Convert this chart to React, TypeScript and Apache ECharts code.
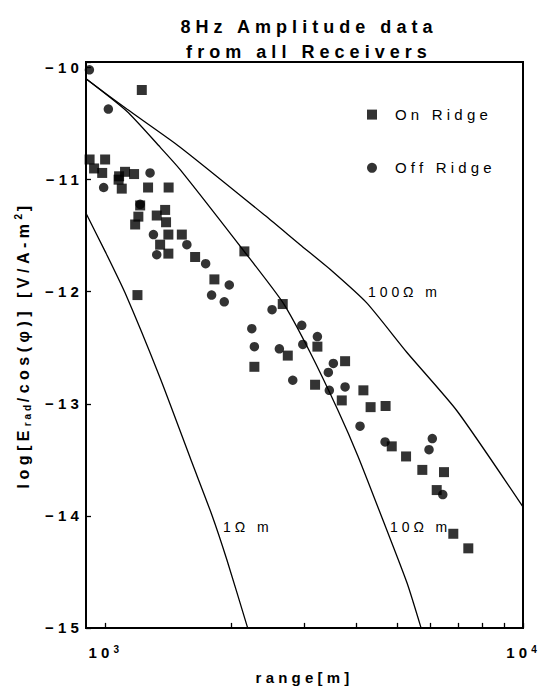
import React, { useEffect, useRef } from 'react';
import * as echarts from 'echarts';

const LS = 0.28; // letter spacing in em, matches the widely spaced lettering
const FONT = 'Liberation Sans';

// ---- data ----
const onRidgeRange = [1224, 918, 1000, 941, 984, 1080, 1116, 1173, 1077, 1096, 1267, 1419, 1213, 1329, 1392, 1399, 1201, 1180, 1417, 1526, 1354, 1417, 1642, 1826, 2154, 1195, 2661, 2276, 2736, 3221, 3752, 3180, 4150, 3684, 4318, 4690, 4852, 5250, 5742, 6471, 6216, 6811, 7398];
const onRidgeLogE = [-10.2, -10.82, -10.82, -10.9, -10.94, -10.97, -10.93, -10.95, -11.0, -11.08, -11.07, -11.07, -11.23, -11.32, -11.27, -11.38, -11.33, -11.4, -11.49, -11.49, -11.58, -11.66, -11.69, -11.89, -11.64, -12.03, -12.11, -12.67, -12.57, -12.49, -12.62, -12.83, -12.88, -12.97, -13.03, -13.02, -13.38, -13.47, -13.59, -13.61, -13.77, -14.16, -14.29];

const offRidgeRange = [917, 1018, 1281, 992, 1213, 1305, 1329, 1569, 1740, 1982, 1798, 1928, 2509, 2244, 2955, 3221, 2972, 2276, 2612, 3517, 3421, 2812, 3752, 3440, 4074, 4677, 6067, 5958, 6427];
const offRidgeLogE = [-10.02, -10.37, -10.94, -11.07, -11.22, -11.49, -11.67, -11.58, -11.75, -11.94, -12.03, -12.09, -12.16, -12.33, -12.3, -12.4, -12.47, -12.49, -12.51, -12.64, -12.72, -12.79, -12.85, -12.88, -13.2, -13.34, -13.31, -13.41, -13.81];

const curve100Range = [900, 1127, 1512, 2415, 2928, 3453, 4227, 5270, 6940, 10000];
const curve100LogE = [-10.1, -10.37, -10.71, -11.32, -11.58, -11.8, -12.1, -12.54, -13.06, -13.92];

const curve10Range = [900, 1127, 1354, 1512, 2162, 2666, 3093, 3609, 4030, 4624, 5279, 5702];
const curve10LogE = [-10.1, -10.39, -10.71, -10.91, -11.65, -12.1, -12.54, -13.06, -13.47, -14.04, -14.6, -15.0];

const curve1Range = [900, 1000, 1116, 1354, 1612, 1800, 1955, 2193];
const curve1LogE = [-11.3, -11.64, -12.01, -12.77, -13.52, -13.99, -14.39, -15.0];

const xTickValues = [1000, 2000, 3000, 4000, 5000, 6000, 7000, 8000, 9000, 10000];
const xLabelValues = [1000, 10000];
const yTicks = [-15, -14, -13, -12, -11, -10];

const titleLines = ['8Hz Amplitude data', 'from all Receivers'];
const curveLabels = ['100Ω m', '10Ω m', '1Ω m'];

// text measurement that accounts for the CSS letter spacing
const measureCtx = document.createElement('canvas').getContext('2d') as CanvasRenderingContext2D;
(echarts as any).setPlatformAPI({
  measureText(text: string, font?: string) {
    measureCtx.font = font || '12px sans-serif';
    const w = measureCtx.measureText(text).width;
    const m = /(\d+(?:\.\d+)?)px/.exec(font || '');
    const size = m ? parseFloat(m[1]) : 12;
    return { width: w + text.length * size * LS };
  },
});

const pairs = (xs: number[], ys: number[]) => xs.map((x, i) => [x, ys[i]]);

const curveSeries = (name: string, xs: number[], ys: number[]) => ({
  name,
  type: 'line',
  data: pairs(xs, ys),
  smooth: 0.2,
  symbol: 'none',
  lineStyle: { color: '#000', width: 1.3 },
  z: 1,
  silent: true,
});

const labelStyle = (text: string) => ({
  text,
  fontFamily: FONT,
  fontSize: 14,
  fill: '#000',
  align: 'left',
  verticalAlign: 'middle',
  textAlign: 'left',
  textVerticalAlign: 'middle',
});

export default function App() {
  const ref = useRef<HTMLDivElement>(null);
  useEffect(() => {
    const chart = echarts.init(ref.current as HTMLDivElement, null, { renderer: 'svg', width: 544, height: 692 });
    const option: any = {
      animation: false,
      backgroundColor: '#fff',
      title: {
        text: titleLines.join('\n'),
        left: 304,
        top: 9,
        textAlign: 'center',
        textStyle: { fontFamily: FONT, fontSize: 18, fontWeight: 'bold', color: '#000', lineHeight: 25 },
      },
      legend: {
        orient: 'vertical',
        left: 362,
        top: 100,
        itemWidth: 10,
        itemHeight: 10,
        itemGap: 34,
        selectedMode: false,
        data: [
          { name: 'On Ridge', icon: 'rect' },
          { name: 'Off Ridge', icon: 'circle' },
        ],
        textStyle: { fontFamily: FONT, fontSize: 15, color: '#000', padding: [0, 0, 0, 13], lineHeight: 16 },
      },
      grid: { left: 86, top: 62, right: 21, bottom: 49, show: true, borderColor: '#000', borderWidth: 2, backgroundColor: 'transparent' },
      xAxis: {
        type: 'log',
        logBase: 10,
        min: 900,
        max: 10000,
        name: 'range[m]',
        nameLocation: 'middle',
        nameGap: 31,
        nameTextStyle: { fontFamily: FONT, fontSize: 15, fontWeight: 'bold', color: '#000' },
        axisLine: { lineStyle: { color: '#000', width: 2 } },
        axisTick: { inside: true, length: 5, lineStyle: { color: '#000', width: 1.3 }, customValues: xTickValues },
        minorTick: { show: false },
        splitLine: { show: false },
        axisLabel: {
          customValues: xLabelValues,
          margin: 15,
          color: '#000',
          fontFamily: FONT,
          fontSize: 15,
          fontWeight: 'bold',
          lineHeight: 20,
          formatter: (v: number) => '10{sup|' + Math.round(Math.log10(v)) + '}',
          rich: {
            sup: { fontFamily: FONT, fontSize: 10, fontWeight: 'bold', color: '#000', verticalAlign: 'top', lineHeight: 10 },
          },
        },
      },
      yAxis: {
        type: 'value',
        min: -15,
        max: -9.95,
        interval: 1,
        name: 'log[E{sub|rad}/cos(φ)] [V/A-m{sup|2}]',
        nameLocation: 'middle',
        nameGap: 47,
        nameTextStyle: {
          fontFamily: FONT,
          fontSize: 16,
          fontWeight: 'bold',
          color: '#000',
          lineHeight: 22,
          rich: {
            sub: { fontFamily: FONT, fontSize: 10, fontWeight: 'bold', color: '#000', verticalAlign: 'bottom', lineHeight: 10 },
            sup: { fontFamily: FONT, fontSize: 10, fontWeight: 'bold', color: '#000', verticalAlign: 'top', lineHeight: 10 },
          },
        },
        axisLine: { show: true, lineStyle: { color: '#000', width: 2 } },
        axisTick: { show: true, inside: true, length: 5, lineStyle: { color: '#000', width: 1.3 } },
        splitLine: { show: false },
        axisLabel: {
          margin: 3,
          color: '#000',
          fontFamily: FONT,
          fontSize: 15,
          fontWeight: 'bold',
          formatter: (v: number) => (yTicks.some((t) => Math.abs(t - v) < 1e-6) ? '\u2212' + Math.abs(Math.round(v)) : ''),
        },
      },
      series: [
        curveSeries('100 ohm m', curve100Range, curve100LogE),
        curveSeries('10 ohm m', curve10Range, curve10LogE),
        curveSeries('1 ohm m', curve1Range, curve1LogE),
        {
          name: 'On Ridge',
          type: 'scatter',
          symbol: 'rect',
          symbolSize: 10,
          itemStyle: { color: '#000' },
          data: pairs(onRidgeRange, onRidgeLogE),
          z: 3,
        },
        {
          name: 'Off Ridge',
          type: 'scatter',
          symbol: 'circle',
          symbolSize: 9.5,
          itemStyle: { color: '#000' },
          data: pairs(offRidgeRange, offRidgeLogE),
          z: 3,
        },
      ],
      graphic: [
        { type: 'text', x: 368, y: 292, style: labelStyle(curveLabels[0]) },
        { type: 'text', x: 390, y: 527, style: labelStyle(curveLabels[1]) },
        { type: 'text', x: 223, y: 527, style: labelStyle(curveLabels[2]) },
      ],
    };
    chart.setOption(option);
    return () => chart.dispose();
  }, []);
  return (
    <>
      <style>{`body{margin:0} #chart text{letter-spacing:${LS}em}`}</style>
      <div id="chart" ref={ref} style={{ position: 'absolute', left: 0, top: 0, width: 544, height: 692, background: '#fff' }} />
    </>
  );
}
